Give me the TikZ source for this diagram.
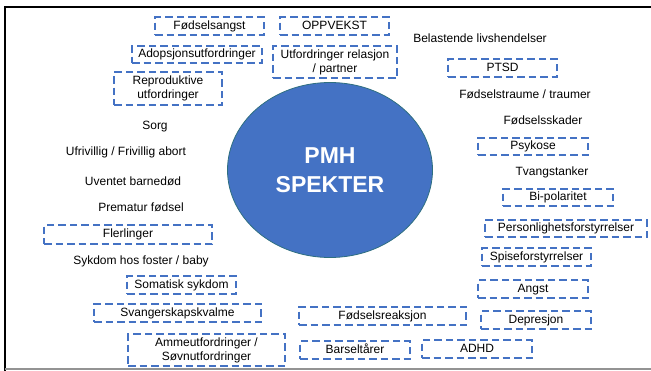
\documentclass[tikz,border=0pt]{standalone}
\usepackage{fontspec}
\setmainfont{Liberation Sans}
\usetikzlibrary{shapes.geometric}
\definecolor{pblue}{HTML}{4472C4}
\definecolor{pedge}{HTML}{2E6F80}
\begin{document}
\begin{tikzpicture}[x=1pt,y=-1pt,
  txt/.style={font=\fontsize{12}{14}\selectfont, inner sep=0pt, align=center, text height=8.8pt, text depth=2.6pt},
  dbox/.style={txt, draw=pblue, line width=2.2pt, dash pattern=on 7.5pt off 4pt},
  big/.style={ellipse, fill=pblue, draw=pedge, line width=0.8pt, inner sep=0pt, text=white, align=center,
    font=\bfseries\fontsize{23}{29}\selectfont}]
\useasboundingbox (0,0) rectangle (651,370);
\fill[white] (0,0) rectangle (651,370);
% frame
\draw[line width=2.5pt] (5,371) -- (5,7) -- (651,7);
\draw[gray!85, line width=1.5pt] (5,369) -- (651,369);
% central circle
\node[big, minimum width=205pt, minimum height=175pt] (pmh) at (330,170) {PMH\\SPEKTER};
% dashed boxes
\node[dbox, minimum width=109pt, minimum height=18pt] (fangst) at (209.5,26) {Fødselsangst};
\node[dbox, minimum width=109pt, minimum height=18pt] (oppvekst) at (334.5,26) {OPPVEKST};
\node[dbox, minimum width=130pt, minimum height=17pt] (adopsjon) at (197,54.5) {Adopsjonsutfordringer};
\node[dbox, minimum width=124pt, minimum height=32pt, text height=, text depth=] (relasjon) at (335,62) {Utfordringer relasjon\\/ partner};
\node[dbox, minimum width=108pt, minimum height=33pt, text height=, text depth=] (repro) at (168,88.5) {Reproduktive\\utfordringer};
\node[dbox, minimum width=109pt, minimum height=18pt] (ptsd) at (502.5,68) {PTSD};
\node[dbox, minimum width=168pt, minimum height=19pt] (flerlinger) at (128,234.5) {Flerlinger};
\node[dbox, minimum width=110pt, minimum height=17pt] (psykose) at (533,146.5) {Psykose};
\node[dbox, minimum width=110pt, minimum height=17pt] (bipol) at (558,197.5) {Bi-polaritet};
\node[dbox, minimum width=162pt, minimum height=17pt] (person) at (566,228.5) {Personlighetsforstyrrelser};
\node[dbox, minimum width=109pt, minimum height=18pt] (somatisk) at (181.5,285) {Somatisk sykdom};
\node[dbox, minimum width=167pt, minimum height=18pt] (svang) at (177.5,313) {Svangerskapskvalme};
\node[dbox, minimum width=157pt, minimum height=32pt, text height=, text depth=] (amme) at (206.5,350) {Ammeutfordringer /\\Søvnutfordringer};
\node[dbox, minimum width=109pt, minimum height=18pt] (spise) at (536.5,257) {Spiseforstyrrelser};
\node[dbox, minimum width=110pt, minimum height=18pt] (angst) at (533,289) {Angst};
\node[dbox, minimum width=110pt, minimum height=18pt] (depresjon) at (536,320) {Depresjon};
\node[dbox, minimum width=167pt, minimum height=18pt] (reaksjon) at (382.5,316) {Fødselsreaksjon};
\node[dbox, minimum width=110pt, minimum height=18pt] (barsel) at (355,350) {Barseltårer};
\node[dbox, minimum width=110pt, minimum height=18pt] (adhd) at (477,349) {ADHD};
% plain labels
\node[txt] (sorg) at (155,126) {Sorg};
\node[txt] (abort) at (126,152) {Ufrivillig / Frivillig abort};
\node[txt] (barnedod) at (133,182) {Uventet barnedød};
\node[txt] (premat) at (141,208) {Prematur fødsel};
\node[txt] (sykdom) at (141,261) {Sykdom hos foster / baby};
\node[txt] (belast) at (480,39) {Belastende livshendelser};
\node[txt] (traume) at (525,95) {Fødselstraume / traumer};
\node[txt] (skader) at (543,121) {Fødselsskader};
\node[txt] (tvang) at (552,172) {Tvangstanker};
\end{tikzpicture}
\end{document}
